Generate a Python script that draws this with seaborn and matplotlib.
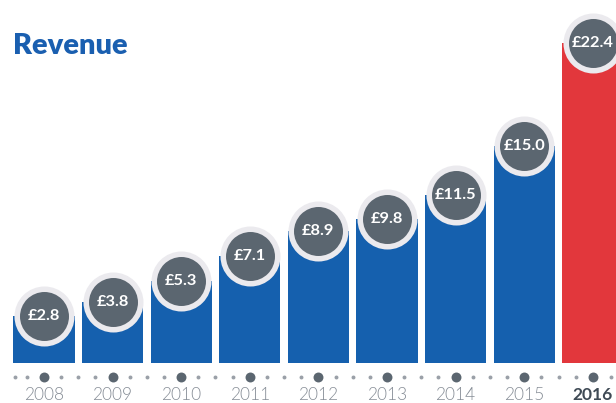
import matplotlib
matplotlib.use("Agg")
import matplotlib.pyplot as plt
import seaborn as sns
import pandas as pd
import numpy as np

# ---- data ----
years = ["2008", "2009", "2010", "2011", "2012", "2013", "2014", "2015", "2016"]
revenue = [2.8, 3.8, 5.3, 7.1, 8.9, 9.8, 11.5, 15.0, 22.4]
labels = ["£2.8", "£3.8", "£5.3", "£7.1", "£8.9", "£9.8", "£11.5", "£15.0", "£22.4"]
highlight = "2016"
title = "Revenue"

# ---- style ----
BLUE = "#1560ae"
RED = "#e2373c"
RING = "#ebeaee"
INNER = "#5b6670"
TITLE_C = "#1a5fb0"
YEAR_C = "#868d96"
YEAR_BOLD_C = "#3f4a55"
SMALL_DOT = "#9aa0a8"

sns.set_theme(style="white")
plt.rcParams["font.family"] = ["Lato", "DejaVu Sans"]

df = pd.DataFrame({"year": years, "revenue": revenue})
palette = {y: (RED if y == highlight else BLUE) for y in years}

fig = plt.figure(figsize=(6.16, 4.03), dpi=100)
ax = fig.add_axes([0, 0, 1, 1])

sns.barplot(data=df, x="year", y="revenue", hue="year", palette=palette,
            legend=False, width=0.89, saturation=1, ax=ax, zorder=2)

BASE = -0.53
for p in ax.patches:
    h = p.get_y() + p.get_height()
    p.set_y(BASE)
    p.set_height(h - BASE)
    p.set_edgecolor("none")

xs = np.arange(len(years))

# badges
ax.scatter(xs, revenue, s=1540, c=INNER, edgecolors=RING, linewidths=3.96,
           zorder=3)
for x, v, lab in zip(xs, revenue, labels):
    ax.text(x, v, lab, ha="center", va="center", color="white",
            fontsize=11.8, fontweight="bold", zorder=4)

# timeline dots
DOT_Y = -1.56
ax.scatter(xs, [DOT_Y] * len(xs), s=51, c=INNER, linewidths=0, zorder=3,
           clip_on=False)
small = [-0.42, -0.25]
for x in xs[:-1]:
    small += [x + 0.25, x + 0.5, x + 0.75]
small += [xs[-1] + 0.26]
ax.scatter(small, [DOT_Y] * len(small), s=8, c=SMALL_DOT, linewidths=0,
           zorder=3)

# year labels
for x, y in zip(xs, years):
    bold = y == highlight
    ax.text(x, -2.86, y, ha="center", va="center",
            color=YEAR_BOLD_C if bold else YEAR_C,
            fontsize=12.5, fontweight="bold" if bold else 300)

# title
fig.text(13 / 616, 1 - 54 / 403, title, ha="left", va="baseline",
         color=TITLE_C, fontsize=21, fontweight=800)

ax.set_xlim(-0.641, 8.338)
ax.set_ylim(-3.42, 25.5)
ax.axis("off")

fig.savefig("out.png", dpi=100)
